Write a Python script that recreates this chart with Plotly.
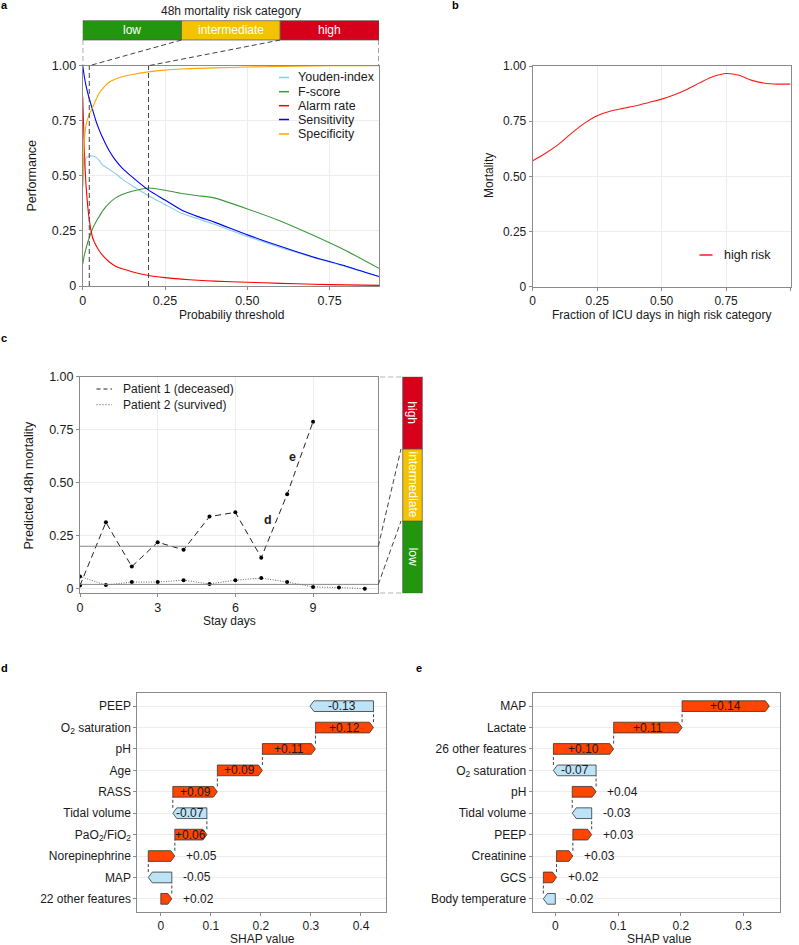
import plotly.graph_objects as go

W, H = 799, 945
def X(px): return px / W
def Y(py): return 1 - py / H

FONT = "Liberation Sans, Arial, sans-serif"
TXT = "#1a1a1a"

# ---------------- data ----------------
# panel a
thr = [0, 0.005, 0.01, 0.02, 0.03, 0.04, 0.05, 0.06, 0.08, 0.10, 0.12, 0.15, 0.20,
       0.25, 0.30, 0.35, 0.40, 0.50, 0.60, 0.70, 0.80, 0.90]
youden = [0.45, 0.55, 0.58, 0.59, 0.59, 0.585, 0.57, 0.55, 0.53, 0.51, 0.485, 0.455, 0.41,
          0.37, 0.33, 0.305, 0.28, 0.225, 0.175, 0.13, 0.088, 0.043]
fscore = [0.10, 0.14, 0.17, 0.22, 0.26, 0.29, 0.315, 0.34, 0.375, 0.40, 0.415, 0.43, 0.445,
          0.435, 0.42, 0.41, 0.40, 0.35, 0.295, 0.23, 0.16, 0.08]
alarm = [0.86, 0.62, 0.46, 0.30, 0.22, 0.185, 0.16, 0.14, 0.11, 0.09, 0.078, 0.065, 0.048,
         0.038, 0.031, 0.026, 0.022, 0.017, 0.012, 0.008, 0.005, 0.003]
sens = [1.0, 0.95, 0.91, 0.85, 0.80, 0.75, 0.71, 0.675, 0.615, 0.57, 0.535, 0.495, 0.435,
        0.39, 0.345, 0.315, 0.29, 0.232, 0.18, 0.132, 0.09, 0.043]
spec = [0.45, 0.66, 0.73, 0.78, 0.81, 0.845, 0.875, 0.895, 0.925, 0.94, 0.95, 0.96, 0.972,
        0.98, 0.985, 0.988, 0.99, 0.994, 0.997, 0.999, 1.0, 1.0]
risk_cats = ["low", "intermediate", "high"]
risk_edges = [0.0, 0.3, 0.6, 0.9]
thresholds = [0.02, 0.2]

# panel b
frac = [0, 0.05, 0.1, 0.15, 0.2, 0.25, 0.3, 0.35, 0.4, 0.45, 0.5, 0.55, 0.6, 0.65, 0.7,
        0.75, 0.8, 0.85, 0.9, 0.95, 1.0]
mort = [0.571, 0.605, 0.645, 0.695, 0.74, 0.775, 0.795, 0.808, 0.82, 0.835, 0.85, 0.87,
        0.895, 0.925, 0.952, 0.966, 0.958, 0.935, 0.922, 0.918, 0.918]

# panel c
days1 = [0, 1, 2, 3, 4, 5, 6, 7, 8, 9]
pat1 = [0.015, 0.313, 0.104, 0.219, 0.183, 0.34, 0.36, 0.146, 0.445, 0.788]
days2 = [0, 1, 2, 3, 4, 5, 6, 7, 8, 9, 10, 11]
pat2 = [0.057, 0.017, 0.031, 0.031, 0.04, 0.022, 0.04, 0.05, 0.031, 0.008, 0.005, 0.0]

# panel d (top -> bottom)
d_feat = ["PEEP", "O<sub>2</sub> saturation", "pH", "Age", "RASS", "Tidal volume",
          "PaO<sub>2</sub>/FiO<sub>2</sub>", "Norepinephrine", "MAP", "22 other features"]
d_val = [-0.127, 0.116, 0.106, 0.090, 0.089, -0.068, 0.064, 0.053, -0.047, 0.022]

# panel e (top -> bottom)
e_feat = ["MAP", "Lactate", "26 other features", "O<sub>2</sub> saturation", "pH",
          "Tidal volume", "PEEP", "Creatinine", "GCS", "Body temperature"]
e_val = [0.139, 0.109, 0.096, -0.068, 0.038, -0.031, 0.030, 0.026, 0.021, -0.019]

# ---------------- layout geometry ----------------
A_X = [X(82.7), X(379)];   A_Y = [Y(286), Y(65.7)]
B_X = [X(532.7), X(790.5)]; B_Y = [Y(286.7), Y(66)]
C_X = [X(80), X(378.3)];   C_Y = [Y(593.3), Y(376.7)]
D_X = [X(137.3), X(386)];  D_Y = [Y(911.7), Y(693.3)]
E_X = [X(532.7), X(780)];  E_Y = [Y(911.7), Y(693.3)]
C_RANGE = [-0.022, 1.0]
D_RANGE = [-0.047, 0.45]
E_RANGE = [-0.036, 0.358]

GREEN, YELLOW, RED = "#23960F", "#F3C300", "#D7001B"
POS, NEG = "#FF4500", "#BDE3F7"

fig = go.Figure()

# ---- panel a curves
for name, ys, col in [("Youden-index", youden, "#87CEEB"), ("F-score", fscore, "#3A9A3A"),
                      ("Alarm rate", alarm, "#FF0000"), ("Sensitivity", sens, "#0000FF"),
                      ("Specificity", spec, "#FFA500")]:
    fig.add_trace(go.Scatter(x=thr, y=ys, mode="lines", name=name, xaxis="x", yaxis="y",
                             line=dict(color=col, width=1.1, shape="spline", smoothing=0.5),
                             showlegend=False, hoverinfo="skip"))

# ---- panel b
fig.add_trace(go.Scatter(x=frac, y=mort, mode="lines", name="high risk", xaxis="x2", yaxis="y2",
                         line=dict(color="#FF1A1A", width=1.1, shape="spline", smoothing=0.8),
                         showlegend=False))

# ---- panel c
fig.add_trace(go.Scatter(x=days2, y=pat2, mode="lines+markers", name="Patient 2 (survived)",
                         xaxis="x3", yaxis="y3",
                         line=dict(color="#555555", width=0.9, dash="1px,1.5px"),
                         marker=dict(color="black", size=4), showlegend=False))
fig.add_trace(go.Scatter(x=days1, y=pat1, mode="lines+markers", name="Patient 1 (deceased)",
                         xaxis="x3", yaxis="y3",
                         line=dict(color="#222222", width=1, dash="6px,4px"),
                         marker=dict(color="black", size=4), showlegend=False))

shapes = []
annotations = []

def ann(text, x, y, xref="paper", yref="paper", size=12, color=TXT, **kw):
    d = dict(text=text, x=x, y=y, xref=xref, yref=yref, showarrow=False,
             xanchor="center", yanchor="middle",
             font=dict(family=FONT, size=size, color=color))
    d.update(kw)
    annotations.append(d)

# ---- waterfall panels
def waterfall(feats, vals, xa, ya, xdom, xrange):
    n = len(vals)
    ppu = (xdom[1] - xdom[0]) * W / (xrange[1] - xrange[0])
    h = 0.25
    cum = 0.0
    ends = []
    for k in range(n):
        i = n - 1 - k
        v = vals[i]
        s, e = cum, cum + v
        cum = e
        ends.append(e)
        tip = min(4.0 / ppu, abs(v) * 0.6)
        if v >= 0:
            xs = [s, e - tip, e, e - tip, s, s]
        else:
            xs = [s, e + tip, e, e + tip, s, s]
        ys = [k - h, k - h, k, k + h, k + h, k - h]
        fig.add_trace(go.Scatter(x=xs, y=ys, mode="lines", fill="toself",
                                 fillcolor=POS if v >= 0 else NEG,
                                 line=dict(color="#333333", width=0.8),
                                 xaxis=xa, yaxis=ya, showlegend=False, hoverinfo="skip"))
        label = f"{v:+.2f}"
        if abs(v) * ppu > 30:
            ann(label, (s + e) / 2, k, xref=xa, yref=ya, size=12)
        else:
            ann(label, max(s, e), k, xref=xa, yref=ya, size=12, xanchor="left", xshift=9)
    for k in range(n - 1):
        shapes.append(dict(type="line", xref=xa, yref=ya, x0=ends[k], x1=ends[k],
                           y0=k + h, y1=k + 1 - h,
                           line=dict(color="#444444", width=1, dash="3px,2px")))

waterfall(d_feat, d_val, "x4", "y4", D_X, D_RANGE)
waterfall(e_feat, e_val, "x5", "y5", E_X, E_RANGE)

# ---- axes
def axis(domain, rng, tickvals, ticktext, anchor, fs=12):
    return dict(domain=domain, range=rng, tickvals=tickvals, ticktext=ticktext, anchor=anchor,
                automargin=False,
                showline=True, linecolor="#8A8A8A", linewidth=1, mirror=True,
                ticks="outside", ticklen=3, tickcolor="#8A8A8A", tickwidth=1,
                showgrid=True, gridcolor="#EDEDED", gridwidth=0.7, zeroline=False,
                tickfont=dict(family=FONT, size=fs, color=TXT))

yt = [0, 0.25, 0.5, 0.75, 1.0]
ytt = ["0", "0.25", "0.50", "0.75", "1.00"]
nd = len(d_feat)
layout = dict(
    width=W, height=H, margin=dict(l=0, r=0, t=0, b=0, pad=0, autoexpand=False),
    paper_bgcolor="white", plot_bgcolor="white", font=dict(family=FONT, color=TXT),
    showlegend=False,
    xaxis=axis(A_X, [0, 0.9], [0, 0.25, 0.5, 0.75], ["0", "0.25", "0.50", "0.75"], "y", 12.5),
    yaxis=axis(A_Y, [0, 1.0], yt, ytt, "x", 12.5),
    xaxis2=axis(B_X, [0, 1.0], yt, ["0", "0.25", "0.50", "0.75", "1.00"], "y2"),
    yaxis2=axis(B_Y, [0, 1.0], yt, ytt, "x2"),
    xaxis3=axis(C_X, [0, 11.52], [0, 3, 6, 9], ["0", "3", "6", "9"], "y3", 12.5),
    yaxis3=axis(C_Y, C_RANGE, yt, ytt, "x3", 12.5),
    xaxis4=axis(D_X, D_RANGE, [0, 0.1, 0.2, 0.3, 0.4], ["0", "0.1", "0.2", "0.3", "0.4"], "y4"),
    yaxis4=axis(D_Y, [-0.6, nd - 0.4], list(range(nd)), d_feat[::-1], "x4"),
    xaxis5=axis(E_X, E_RANGE, [0, 0.1, 0.2, 0.3], ["0", "0.1", "0.2", "0.3"], "y5"),
    yaxis5=axis(E_Y, [-0.6, len(e_feat) - 0.4], list(range(len(e_feat))), e_feat[::-1], "x5"),
)
for k in ["xaxis4", "xaxis5"]:
    layout[k]["showgrid"] = False

# ---- panel a: vertical thresholds
for t in thresholds:
    shapes.append(dict(type="line", xref="x", yref="y", x0=t, x1=t, y0=0, y1=1,
                       line=dict(color="#444444", width=1, dash="5px,3px")))

# ---- panel a: risk category bar
bar_top, bar_bot = Y(20.7), Y(40)
cols = [GREEN, YELLOW, RED]
for j, cat in enumerate(risk_cats):
    shapes.append(dict(type="rect", xref="x", yref="paper", x0=risk_edges[j], x1=risk_edges[j + 1],
                       y0=bar_bot, y1=bar_top, fillcolor=cols[j],
                       line=dict(color="#555555", width=0.7)))
    ann(cat, (risk_edges[j] + risk_edges[j + 1]) / 2, (bar_top + bar_bot) / 2, xref="x",
        size=12, color="white")
ann("48h mortality risk category", (risk_edges[0] + risk_edges[-1]) / 2, Y(11.5), xref="x", size=12)
dash_top = dict(color="#444444", width=1, dash="5px,3px")
for xe in [risk_edges[0], risk_edges[-1]]:
    shapes.append(dict(type="line", xref="x", yref="paper", x0=xe, x1=xe, y0=bar_bot, y1=A_Y[1],
                       line=dash_top))
for xe, t in zip(risk_edges[1:3], thresholds):
    shapes.append(dict(type="line", xref="x", yref="paper", x0=xe, x1=t, y0=bar_bot, y1=A_Y[1],
                       line=dash_top))

# ---- panel a legend (manual)
leg_a = [("Youden-index", "#87CEEB", 77.5), ("F-score", "#3A9A3A", 91.7),
         ("Alarm rate", "#FF0000", 105.7), ("Sensitivity", "#0000FF", 119.5),
         ("Specificity", "#FFA500", 134)]
for name, col, py in leg_a:
    shapes.append(dict(type="line", xref="paper", yref="paper", x0=X(279), x1=X(289),
                       y0=Y(py), y1=Y(py), line=dict(color=col, width=1.5)))
    ann(name, X(296), Y(py), size=12.5, xanchor="left")

# ---- panel b legend
shapes.append(dict(type="line", xref="paper", yref="paper", x0=X(699.5), x1=X(712.5),
                   y0=Y(255), y1=Y(255), line=dict(color="#FF1A1A", width=1.5)))
ann("high risk", X(721.5), Y(255), size=12.5, xanchor="left")

# ---- panel c reference lines
for t in thresholds:
    shapes.append(dict(type="line", xref="x3 domain", yref="y3", x0=0, x1=1, y0=t, y1=t,
                       line=dict(color="#7A7A7A", width=0.9)))
# colour bar on the right of c
span = (C_RANGE[1] - C_RANGE[0]) / 3
cb_edges = [C_RANGE[0] + span * j for j in range(4)]
for j, cat in enumerate(risk_cats):
    shapes.append(dict(type="rect", xref="paper", yref="y3", x0=X(402.7), x1=X(422.3),
                       y0=cb_edges[j], y1=cb_edges[j + 1], fillcolor=cols[j],
                       line=dict(color="#555555", width=0.7)))
    ann(cat, X(412.5), (cb_edges[j] + cb_edges[j + 1]) / 2, yref="y3", size=12,
        color="white", textangle=90)
for yv in [C_RANGE[0], C_RANGE[1]]:
    shapes.append(dict(type="line", xref="paper", yref="y3", x0=X(380), x1=X(401),
                       y0=yv, y1=yv, line=dash_top))
for t, yb in zip(thresholds, cb_edges[1:3]):
    shapes.append(dict(type="line", xref="paper", yref="y3", x0=C_X[1], x1=X(401),
                       y0=t, y1=yb, line=dash_top))
# c annotations
ann("<b>d</b>", 7.27, 0.324, xref="x3", yref="y3", size=12.5)
ann("<b>e</b>", 8.19, 0.62, xref="x3", yref="y3", size=12.5)
# c legend
shapes.append(dict(type="line", xref="paper", yref="paper", x0=X(96.5), x1=X(112), y0=Y(389),
                   y1=Y(389), line=dict(color="#222222", width=1, dash="4px,3px")))
shapes.append(dict(type="line", xref="paper", yref="paper", x0=X(96.5), x1=X(112), y0=Y(404.7),
                   y1=Y(404.7), line=dict(color="#555555", width=1, dash="1px,2px")))
ann("Patient 1 (deceased)", X(121), Y(389), size=12, xanchor="left")
ann("Patient 2 (survived)", X(121), Y(404.7), size=12, xanchor="left")

# ---- axis titles
ann("Performance", X(31.5), Y(176), size=12.5, textangle=-90)
ann("Probabiliy threshold", X(231), Y(315), size=12)
ann("Mortality", X(489), Y(176), size=12, textangle=-90)
ann("Fraction of ICU days in high risk category", X(661), Y(315), size=12)
ann("Predicted 48h mortality", X(28.5), Y(485), size=12.5, textangle=-90)
ann("Stay days", X(229), Y(621), size=12)
ann("SHAP value", X(262), Y(938.5), size=12)
ann("SHAP value", X(659), Y(938.5), size=12)

# ---- panel letters
for letter, px, py in [("a", 4, 5), ("b", 455, 5), ("c", 4, 338), ("d", 4, 668), ("e", 419, 668)]:
    ann(f"<b>{letter}</b>", X(px), Y(py), size=11, color="black")

layout["shapes"] = shapes
layout["annotations"] = annotations
fig.update_layout(**layout)
fig.write_html("out.html")
